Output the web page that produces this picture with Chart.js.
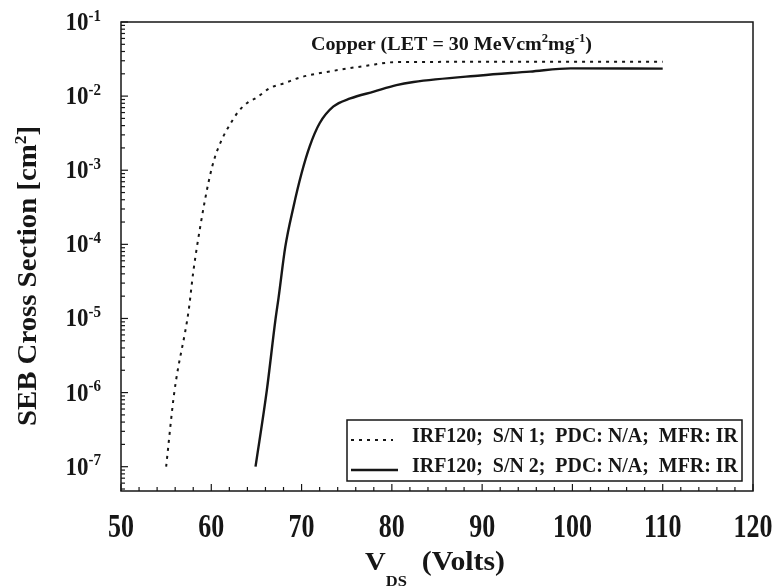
<!DOCTYPE html>
<html>
<head>
<meta charset="utf-8">
<script src="https://cdn.jsdelivr.net/npm/chart.js@4"></script>
<style>
  html, body { margin: 0; padding: 0; background: #fff; }
  canvas { display: block; }
</style>
</head>
<body>
<canvas id="seb" width="775" height="588"></canvas>
<script>
// SEB cross section vs drain-source voltage (copper ions)
const FONT = '"Liberation Serif", "Times New Roman", serif';
const INK = '#161616';

// S/N 1 (dashed)
const vdsSn1 = [55, 55.9, 57.5, 58.0, 58.8, 59.75, 60.4, 61.3, 62.1, 63.0, 64.1, 65.0, 66.5, 68.0, 69.8, 73.5, 77.2, 80.5, 90, 100, 110];
const sigmaSn1 = [1e-7, 1e-6, 1.3e-5, 4.2e-5, 1.8e-4, 7.4e-4, 1.5e-3, 2.8e-3, 4.2e-3, 6.2e-3, 8.3e-3, 9.5e-3, 1.29e-2, 1.48e-2, 1.78e-2, 2.19e-2, 2.57e-2, 2.88e-2, 2.9e-2, 2.9e-2, 2.9e-2];

// S/N 2 (solid)
const vdsSn2 = [64.9, 66.15, 67.1, 67.45, 68.2, 69.1, 70.0, 70.9, 72.0, 73.5, 75.4, 78.0, 80.5, 82.4, 89.8, 95.3, 99.8, 110];
const sigmaSn2 = [1e-7, 1.07e-6, 9.5e-6, 1.9e-5, 9.3e-5, 3.2e-4, 9.1e-4, 2.1e-3, 4.3e-3, 7.2e-3, 9.3e-3, 1.15e-2, 1.41e-2, 1.55e-2, 1.9e-2, 2.14e-2, 2.37e-2, 2.35e-2];

const seriesLabels = [
  'IRF120;  S/N 1;  PDC: N/A;  MFR: IR',
  'IRF120;  S/N 2;  PDC: N/A;  MFR: IR'
];

const xMin = 50, xMax = 120;
const yMin = 4.7e-8, yMax = 0.1;
const yDecades = [-1, -2, -3, -4, -5, -6, -7];

function toPoints(xs, ys) {
  return xs.map((x, i) => ({ x: x, y: ys[i] }));
}

function piecesWidth(ctx, pieces) {
  let w = 0;
  pieces.forEach(p => {
    ctx.font = 'bold ' + p[1] + 'px ' + FONT;
    w += ctx.measureText(p[0]).width;
  });
  return w;
}

// pieces are [text, size, dy]; optional width to squeeze/stretch to, and vertical scale
function drawRun(ctx, pieces, x, y, fitWidth, sy) {
  const natural = piecesWidth(ctx, pieces);
  const sx = fitWidth ? fitWidth / natural : 1;
  ctx.save();
  ctx.translate(x, y);
  ctx.scale(sx, sy || 1);
  let cx = 0;
  pieces.forEach(p => {
    ctx.font = 'bold ' + p[1] + 'px ' + FONT;
    ctx.fillText(p[0], cx, p[2] || 0);
    cx += ctx.measureText(p[0]).width;
  });
  ctx.restore();
  return natural * sx;
}

const decorPlugin = {
  id: 'decor',
  afterDraw(chart) {
    const ctx = chart.ctx;
    const area = chart.chartArea;
    const xs = chart.scales.x;
    const ys = chart.scales.y;
    ctx.save();
    ctx.strokeStyle = INK;
    ctx.fillStyle = INK;
    ctx.textAlign = 'left';
    ctx.textBaseline = 'alphabetic';

    // frame
    ctx.lineWidth = 1.5;
    ctx.strokeRect(area.left, area.top, area.right - area.left, area.bottom - area.top);

    // x ticks, inward
    ctx.lineWidth = 1.2;
    for (let v = xMin; v <= xMax; v += 2) {
      const px = xs.getPixelForValue(v);
      const len = v % 10 === 0 ? 7 : 4;
      ctx.beginPath();
      ctx.moveTo(px, area.bottom);
      ctx.lineTo(px, area.bottom - len);
      ctx.stroke();
    }

    // y ticks, log minor, inward
    for (let n = -8; n <= -1; n++) {
      for (let m = 1; m <= 9; m++) {
        const val = m * Math.pow(10, n);
        if (val < yMin || val > yMax) continue;
        const py = ys.getPixelForValue(val);
        const len = m === 1 ? 7 : 4;
        ctx.beginPath();
        ctx.moveTo(area.left, py);
        ctx.lineTo(area.left + len, py);
        ctx.stroke();
      }
    }

    // x tick labels (tall, as in the scan)
    xs.ticks.forEach(t => {
      const px = xs.getPixelForValue(t.value);
      const pieces = [[String(t.value), 26, 0]];
      const w = piecesWidth(ctx, pieces);
      drawRun(ctx, pieces, px - w / 2, 537, null, 1.3);
    });

    // y tick labels 10^n
    yDecades.forEach(n => {
      const py = ys.getPixelForValue(Math.pow(10, n));
      const pieces = [['10', 23, 0], [String(n), 15, -9]];
      const w = piecesWidth(ctx, pieces);
      drawRun(ctx, pieces, 101 - w, py + 8, null, 1.05);
    });

    // y title
    ctx.save();
    ctx.translate(36, 276);
    ctx.rotate(-Math.PI / 2);
    const yt = [['SEB Cross Section [cm', 28, 0], ['2', 17, -10], [']', 28, 0]];
    drawRun(ctx, yt, -150, 0, 300, 1);
    ctx.restore();

    // x title with subscript
    const xt = [['V', 26, 0], ['DS', 15, 16], ['  (Volts)', 27, 0]];
    drawRun(ctx, xt, 365, 570, 140, 1);

    // annotation
    const an = [['Copper (LET = 30 MeVcm', 19, 0], ['2', 12, -8], ['mg', 19, 0], ['-1', 12, -8], [')', 19, 0]];
    drawRun(ctx, an, 311, 50, 281, 1);

    // legend
    const lx = 347, ly = 420, lw = 395, lh = 61;
    ctx.fillStyle = '#fff';
    ctx.fillRect(lx, ly, lw, lh);
    ctx.lineWidth = 1.5;
    ctx.strokeStyle = INK;
    ctx.strokeRect(lx, ly, lw, lh);
    ctx.fillStyle = INK;
    const rows = [442, 472];
    const ends = [393, 398];
    chart.data.datasets.forEach((ds, i) => {
      ctx.beginPath();
      ctx.setLineDash(ds.borderDash || []);
      ctx.lineWidth = ds.borderWidth;
      ctx.moveTo(351, rows[i] - 2);
      ctx.lineTo(ends[i], rows[i] - 2);
      ctx.stroke();
      ctx.setLineDash([]);
      drawRun(ctx, [[ds.label, 20, 0]], 412, rows[i], 326, 1);
    });
    ctx.restore();
  }
};

new Chart(document.getElementById('seb'), {
  type: 'line',
  data: {
    datasets: [
      {
        label: seriesLabels[0],
        data: toPoints(vdsSn1, sigmaSn1),
        borderColor: INK,
        borderWidth: 2,
        borderDash: [3, 5],
        pointRadius: 0,
        cubicInterpolationMode: 'monotone',
        fill: false
      },
      {
        label: seriesLabels[1],
        data: toPoints(vdsSn2, sigmaSn2),
        borderColor: INK,
        borderWidth: 2.4,
        pointRadius: 0,
        cubicInterpolationMode: 'monotone',
        fill: false
      }
    ]
  },
  options: {
    responsive: false,
    animation: false,
    devicePixelRatio: 1,
    layout: { padding: { top: 22, right: 22, left: 0, bottom: 0 } },
    plugins: {
      legend: { display: false },
      tooltip: { enabled: false }
    },
    scales: {
      x: {
        type: 'linear',
        min: xMin,
        max: xMax,
        grid: { display: false, drawTicks: false },
        border: { display: false },
        ticks: { display: false, stepSize: 10, autoSkip: false },
        afterFit(scale) { scale.height = 97; }
      },
      y: {
        type: 'logarithmic',
        min: yMin,
        max: yMax,
        grid: { display: false, drawTicks: false },
        border: { display: false },
        ticks: { display: false },
        afterFit(scale) { scale.width = 121; }
      }
    }
  },
  plugins: [decorPlugin]
});
</script>
</body>
</html>
